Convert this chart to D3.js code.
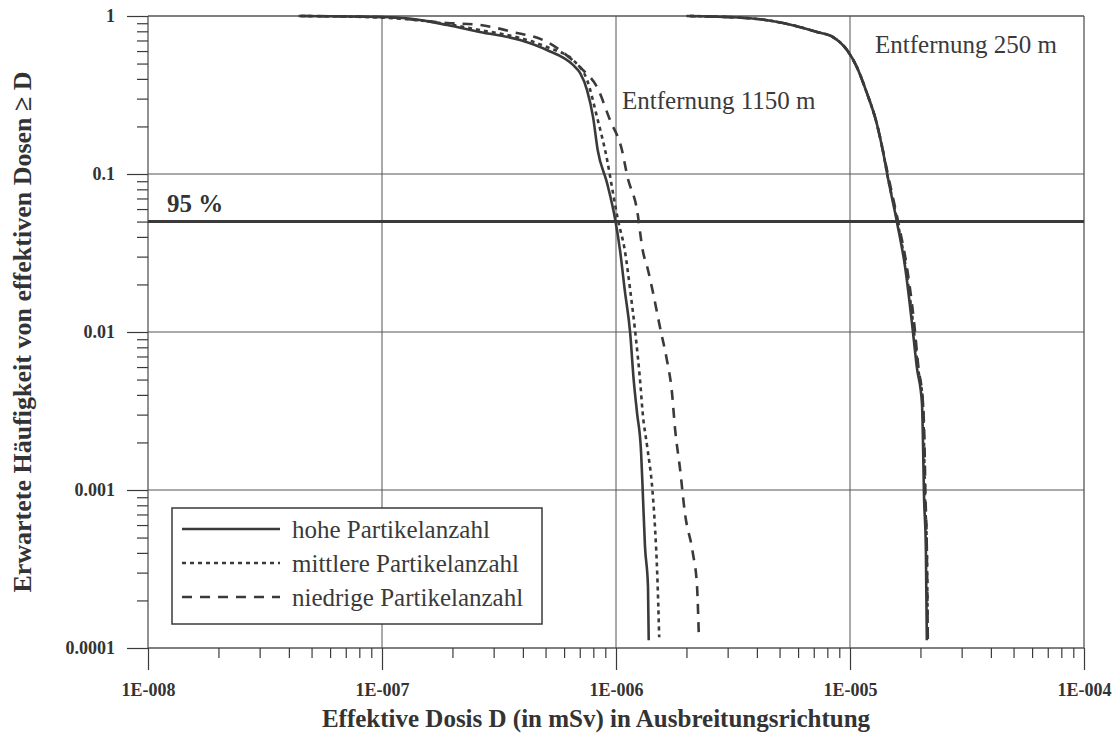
<!DOCTYPE html>
<html>
<head>
<meta charset="utf-8">
<script src="https://cdn.jsdelivr.net/npm/d3@7/dist/d3.min.js"></script>
<style>
  html, body { margin: 0; padding: 0; background: #ffffff; }
  svg { display: block; }
</style>
</head>
<body>
<svg id="chart" width="1117" height="733"></svg>
<script>
// ---------- Data ----------
const xTicks = [1e-8, 1e-7, 1e-6, 1e-5, 1e-4];
const xTickLabels = ["1E-008", "1E-007", "1E-006", "1E-005", "1E-004"];
const yTicks = [1, 0.1, 0.01, 0.001, 0.0001];
const yTickLabels = ["1", "0.1", "0.01", "0.001", "0.0001"];
const level95 = 0.05;

const seriesNames = ["hohe Partikelanzahl", "mittlere Partikelanzahl", "niedrige Partikelanzahl"];

// Entfernung 1150 m
const prob1150Hoch   = [1, 0.985, 0.957, 0.877, 0.792, 0.705, 0.609, 0.49, 0.436, 0.34, 0.229, 0.142, 0.0876, 0.0511, 0.033, 0.0184, 0.0098, 0.00498, 0.00308, 0.00173, 0.00101, 0.00044, 0.000245, 0.000112];
const dose1150Hoch   = [4.4e-8, 9.8e-8, 1.36e-7, 1.9e-7, 2.62e-7, 3.89e-7, 5.07e-7, 6.55e-7, 7.02e-7, 7.52e-7, 7.98e-7, 8.35e-7, 9.16e-7, 9.93e-7, 1.04e-6, 1.09e-6, 1.15e-6, 1.19e-6, 1.23e-6, 1.28e-6, 1.30e-6, 1.33e-6, 1.37e-6, 1.38e-6];

const prob1150Mittel = [1, 0.978, 0.89, 0.815, 0.726, 0.636, 0.512, 0.394, 0.229, 0.123, 0.0758, 0.0511, 0.033, 0.0184, 0.0098, 0.00475, 0.00308, 0.00187, 0.00101, 0.000558, 0.000298, 0.000117];
const dose1150Mittel = [4.5e-8, 9.8e-8, 1.9e-7, 2.62e-7, 3.89e-7, 5.07e-7, 6.68e-7, 7.52e-7, 8.3e-7, 9.16e-7, 9.71e-7, 1.02e-6, 1.09e-6, 1.15e-6, 1.21e-6, 1.27e-6, 1.30e-6, 1.36e-6, 1.43e-6, 1.47e-6, 1.50e-6, 1.53e-6];

const prob1150Niedrig = [1, 0.985, 0.903, 0.877, 0.792, 0.685, 0.542, 0.455, 0.355, 0.22, 0.142, 0.0957, 0.0592, 0.033, 0.0247, 0.0177, 0.0108, 0.00665, 0.0043, 0.0024, 0.00134, 0.000715, 0.000399, 0.000245, 0.000117];
const dose1150Niedrig = [4.5e-8, 9.8e-8, 1.9e-7, 2.62e-7, 3.63e-7, 5.07e-7, 6.36e-7, 7.23e-7, 8.3e-7, 9.42e-7, 1.06e-6, 1.12e-6, 1.23e-6, 1.30e-6, 1.37e-6, 1.44e-6, 1.54e-6, 1.65e-6, 1.73e-6, 1.79e-6, 1.88e-6, 1.97e-6, 2.13e-6, 2.22e-6, 2.26e-6];

// Entfernung 250 m
const prob250        = [1, 0.967, 0.903, 0.792, 0.736, 0.609, 0.475, 0.326, 0.21, 0.142, 0.0957, 0.049, 0.0258, 0.0114, 0.006, 0.00355, 0.00207, 0.00096, 0.000417, 0.000112];
const dose250Hoch    = [2.07e-6, 3.74e-6, 5.17e-6, 7.23e-6, 8.46e-6, 9.71e-6, 1.07e-5, 1.18e-5, 1.30e-5, 1.38e-5, 1.45e-5, 1.59e-5, 1.72e-5, 1.84e-5, 1.93e-5, 2.03e-5, 2.05e-5, 2.07e-5, 2.11e-5, 2.13e-5];
const dose250Mittel  = [2.07e-6, 3.74e-6, 5.17e-6, 7.23e-6, 8.46e-6, 9.71e-6, 1.07e-5, 1.18e-5, 1.30e-5, 1.38e-5, 1.45e-5, 1.60e-5, 1.73e-5, 1.86e-5, 1.95e-5, 2.05e-5, 2.07e-5, 2.09e-5, 2.13e-5, 2.15e-5];
const dose250Niedrig = [2.0e-6, 3.74e-6, 5.17e-6, 7.23e-6, 8.46e-6, 9.71e-6, 1.07e-5, 1.18e-5, 1.30e-5, 1.38e-5, 1.46e-5, 1.61e-5, 1.75e-5, 1.88e-5, 1.96e-5, 2.05e-5, 2.08e-5, 2.10e-5, 2.13e-5, 2.15e-5];

// ---------- Chart ----------
const svg = d3.select("#chart");
const serif = "'Liberation Serif', 'Times New Roman', Times, serif";
const ink = "#3a3a3a";

const x = d3.scaleLog().domain([1e-8, 1e-4]).range([148, 1084]);
const y = d3.scaleLog().domain([1e-4, 1]).range([648, 16]);

const dashStyles = [null, "4,4", "10,8"];

// Grid lines
const grid = svg.append("g");
grid.selectAll("line.h").data(yTicks).join("line")
  .attr("x1", x(1e-8)).attr("x2", x(1e-4))
  .attr("y1", d => y(d)).attr("y2", d => y(d))
  .attr("stroke", "#555").attr("stroke-width", d => (d === 1 || d === 1e-4) ? 1.3 : 1);
grid.selectAll("line.v").data(xTicks).join("line")
  .attr("y1", y(1)).attr("y2", y(1e-4))
  .attr("x1", d => x(d)).attr("x2", d => x(d))
  .attr("stroke", "#555").attr("stroke-width", d => (d === 1e-8 || d === 1e-4) ? 1.3 : 1);

// Axes
const minorX = x.ticks().filter(d => !xTicks.some(t => Math.abs(t - d) / t < 1e-6));
const minorY = y.ticks().filter(d => !yTicks.some(t => Math.abs(t - d) / t < 1e-6));

function styleAxis(g) {
  g.select(".domain").remove();
  g.selectAll(".tick line").attr("stroke", ink).attr("stroke-width", 1.2);
  g.selectAll("text").attr("font-family", serif).attr("font-weight", "bold")
    .attr("font-size", 18).attr("fill", "#333");
}

svg.append("g").attr("transform", `translate(0,${y(1e-4)})`)
  .call(d3.axisBottom(x).tickValues(minorX).tickSize(10).tickFormat(""))
  .call(styleAxis);
svg.append("g").attr("transform", `translate(0,${y(1e-4)})`)
  .call(d3.axisBottom(x).tickValues(xTicks).tickSize(22).tickPadding(13)
    .tickFormat((d, i) => xTickLabels[i]))
  .call(styleAxis);

svg.append("g").attr("transform", `translate(${x(1e-8)},0)`)
  .call(d3.axisLeft(y).tickValues(minorY).tickSize(11).tickFormat(""))
  .call(styleAxis);
svg.append("g").attr("transform", `translate(${x(1e-8)},0)`)
  .call(d3.axisLeft(y).tickValues(yTicks).tickSize(21).tickPadding(12)
    .tickFormat((d, i) => yTickLabels[i]))
  .call(styleAxis);

// 95 % line
svg.append("line")
  .attr("x1", x(1e-8)).attr("x2", x(1e-4))
  .attr("y1", y(level95)).attr("y2", y(level95))
  .attr("stroke", ink).attr("stroke-width", 3);
svg.append("text").attr("x", 167).attr("y", 212)
  .attr("font-family", serif).attr("font-weight", "bold").attr("font-size", 25)
  .attr("fill", "#333").text("95 %");

// Curves
const line = d3.line().x(d => x(d[0])).y(d => y(d[1])).curve(d3.curveMonotoneX);
const zip = (a, b) => a.map((v, i) => [v, b[i]]);

const curves = [
  { pts: zip(dose1150Hoch, prob1150Hoch), s: 0 },
  { pts: zip(dose1150Mittel, prob1150Mittel), s: 1 },
  { pts: zip(dose1150Niedrig, prob1150Niedrig), s: 2 },
  { pts: zip(dose250Niedrig, prob250), s: 2 },
  { pts: zip(dose250Mittel, prob250), s: 1 },
  { pts: zip(dose250Hoch, prob250), s: 0 }
];
svg.append("g").selectAll("path").data(curves).join("path")
  .attr("d", d => line(d.pts))
  .attr("fill", "none").attr("stroke", ink).attr("stroke-width", 2.6)
  .attr("stroke-dasharray", d => dashStyles[d.s]);

// Annotations
svg.append("text").attr("x", 875).attr("y", 53)
  .attr("font-family", serif).attr("font-size", 25).attr("fill", "#3a3a3a")
  .text("Entfernung 250 m");
svg.append("text").attr("x", 622).attr("y", 109)
  .attr("font-family", serif).attr("font-size", 25).attr("fill", "#3a3a3a")
  .text("Entfernung 1150 m");

// Legend
const lg = svg.append("g");
lg.append("rect").attr("x", 172).attr("y", 508).attr("width", 370).attr("height", 116)
  .attr("fill", "#fff").attr("stroke", ink).attr("stroke-width", 1.5);
seriesNames.forEach((name, i) => {
  const cy = 529 + i * 34;
  lg.append("line").attr("x1", 182).attr("x2", 280).attr("y1", cy).attr("y2", cy)
    .attr("stroke", ink).attr("stroke-width", 2.6)
    .attr("stroke-dasharray", dashStyles[i]);
  lg.append("text").attr("x", 292).attr("y", cy + 9)
    .attr("font-family", serif).attr("font-size", 25).attr("fill", "#3a3a3a")
    .text(name);
});

// Axis titles
svg.append("text").attr("x", 596).attr("y", 727).attr("text-anchor", "middle")
  .attr("font-family", serif).attr("font-weight", "bold").attr("font-size", 25)
  .attr("fill", "#333").text("Effektive Dosis D (in mSv) in Ausbreitungsrichtung");
svg.append("text").attr("transform", "translate(31,332) rotate(-90)")
  .attr("text-anchor", "middle")
  .attr("font-family", serif).attr("font-weight", "bold").attr("font-size", 26)
  .attr("fill", "#333").text("Erwartete Häufigkeit von effektiven Dosen ≥ D");
</script>
</body>
</html>
